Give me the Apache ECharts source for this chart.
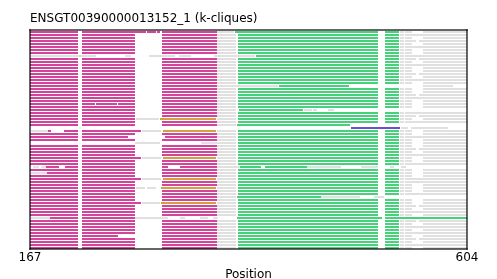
<!DOCTYPE html>
<html><head><meta charset="utf-8">
<script src="https://cdn.jsdelivr.net/npm/echarts@6/dist/echarts.min.js"></script>
<style>html,body{margin:0;padding:0;background:#fff}#c{width:497px;height:279px}</style>
</head><body><div id="c"></div>
<script>
const titleText = 'ENSGT00390000013152_1 (k-cliques)';
const xAxisName = 'Position';
const xRange = [167, 604];
const xTickLabels = [167, 604];
const rowCount = 73;
const kindOrder = ['M', 'G', 'E', 'O', 'P'];
const kindColors = ['#d4449b', '#e0e0e0', '#47d17a', '#d4a040', '#6a4fd0'];

// typical row pieces [start, end, kind]
const leftStd = [[167,215,'M'],[219,272,'M'],[299,354,'M']];
const midStd = [[354,373,'G'],[375,515,'E'],[522,536,'E']];
const rightA = [[537,541,'G'],[542,549,'G'],[560,604,'G']];
const rightB = [[537,541,'G'],[542,604,'G']];
const rightC = [[537,541,'G'],[542,553,'G'],[556,604,'G']];
const rightStyleOfRow = 'ABACABAABCABAACABABAACBABAABCABAACABABACABAABCABAABACABAABCABAACABABACAB';

// rows that differ from the typical row
const specialRows = {
  0: [[167,215,'M'],[219,283,'M'],[284,293,'M'],[294,297,'M'],[299,354,'M'],[354,371,'G'],[372,515,'E'],[522,536,'E'],[537,541,'G'],[542,549,'G'],[560,604,'G']],
  8: [[167,233,'G'],[262,268,'G'],[286,312,'G'],[316,328,'G'],[351,392,'G'],[393,515,'E'],[522,536,'E'],[537,541,'G'],[542,604,'G']],
  18: [[167,215,'M'],[219,272,'M'],[299,354,'M'],[354,415,'G'],[416,486,'E'],[560,590,'G']],
  24: [[167,215,'M'],[219,232,'M'],[233,254,'M'],[255,272,'M'],[299,354,'M'],[354,373,'G'],[375,515,'E'],[522,536,'E'],[537,541,'G'],[542,549,'G'],[560,604,'G']],
  26: [[167,215,'M'],[219,272,'M'],[299,354,'M'],[354,373,'G'],[376,440,'E'],[441,449,'G'],[450,454,'G'],[465,471,'G']],
  29: [[167,215,'M'],[219,272,'M'],[273,296,'G'],[297,353,'O'],[354,373,'G'],[375,515,'E'],[522,536,'E'],[537,541,'G'],[542,549,'G'],[560,604,'G']],
  31: [[167,215,'M'],[219,272,'M'],[299,354,'M'],[354,373,'G'],[374,487,'E']],
  32: [[488,537,'P'],[538,545,'G'],[548,585,'G']],
  33: [[168,185,'G'],[185,188,'M'],[201,215,'M'],[219,278,'M'],[279,298,'G'],[300,353,'O'],[354,373,'G'],[375,515,'E'],[522,536,'E'],[537,541,'G'],[542,549,'G'],[560,604,'G']],
  35: [[167,215,'M'],[219,265,'M'],[302,354,'M'],[354,373,'G'],[375,515,'E'],[522,536,'E'],[537,541,'G'],[542,604,'G']],
  37: [[272,297,'G'],[338,373,'G'],[375,515,'E'],[522,536,'E'],[537,541,'G'],[542,549,'G'],[560,604,'G']],
  42: [[167,215,'M'],[219,278,'M'],[279,298,'G'],[300,353,'O'],[354,373,'G'],[375,515,'E'],[522,536,'E'],[537,541,'G'],[542,549,'G'],[560,604,'G']],
  45: [[170,176,'G'],[178,183,'G'],[183,196,'M'],[202,215,'M'],[219,272,'M'],[299,305,'M'],[317,354,'M'],[354,377,'G'],[377,398,'E'],[402,444,'E'],[444,478,'G'],[498,515,'G'],[527,531,'G'],[538,543,'G']],
  47: [[168,184,'G'],[184,215,'M'],[219,272,'M'],[299,354,'M'],[354,373,'G'],[375,515,'E'],[522,536,'E'],[537,541,'G'],[542,549,'G'],[560,604,'G']],
  49: [[167,215,'M'],[219,278,'M'],[279,298,'G'],[300,353,'O'],[354,373,'G'],[375,515,'E'],[522,536,'E'],[537,541,'G'],[542,604,'G']],
  52: [[167,215,'M'],[219,272,'M'],[273,282,'G'],[284,293,'G'],[298,353,'O'],[354,373,'G'],[375,515,'E'],[522,536,'E'],[537,541,'G'],[542,549,'G'],[560,604,'G']],
  55: [[167,215,'M'],[219,272,'M'],[299,354,'M'],[354,373,'G'],[374,458,'E'],[458,497,'G'],[511,521,'G']],
  57: [[167,215,'M'],[219,278,'M'],[279,297,'G'],[298,353,'O'],[354,373,'G'],[375,515,'E'],[522,536,'E'],[537,541,'G'],[542,549,'G'],[560,604,'G']],
  62: [[167,187,'G'],[187,215,'M'],[219,272,'M'],[272,305,'G'],[317,322,'G'],[337,345,'G'],[350,355,'G'],[374,519,'E'],[522,604,'E']],
  68: [[167,215,'M'],[219,255,'M'],[299,354,'M'],[354,373,'G'],[375,515,'E'],[522,536,'E'],[537,541,'G'],[542,549,'G'],[560,604,'G']]
};

const rightByCode = {A: rightA, B: rightB, C: rightC};
const segData = [];
for (let r = 0; r < rowCount; r++) {
  const segs = specialRows[r] || leftStd.concat(midStd, rightByCode[rightStyleOfRow[r] || 'A']);
  segs.forEach(s => segData.push([r, s[0], s[1], kindOrder.indexOf(s[2])]));
}

const spine = {show: true, onZero: false, lineStyle: {color: 'rgba(0,0,0,0.6)', width: 2}};
const font = 'DejaVu Sans';
const chart = echarts.init(document.getElementById('c'), null, {renderer: 'canvas'});
chart.setOption({
  animation: false,
  title: {text: titleText, left: 30, top: 13, padding: 0,
    textStyle: {fontFamily: font, fontSize: 12, fontWeight: 'normal', color: '#000'}},
  grid: {left: 30, right: 30, top: 30, height: 219, containLabel: false, outerBoundsMode: 'none'},
  xAxis: [
    {type: 'value', min: xRange[0], max: xRange[1], position: 'bottom', z: 10,
     axisLine: spine, axisTick: {show: false}, splitLine: {show: false},
     axisLabel: {customValues: xTickLabels, color: '#000', fontSize: 12, fontFamily: font, margin: 3},
     name: xAxisName, nameLocation: 'middle', nameGap: 13,
     nameTextStyle: {color: '#000', fontSize: 12, fontFamily: font}},
    {type: 'value', min: xRange[0], max: xRange[1], position: 'top', z: 10,
     axisLine: spine, axisTick: {show: false}, splitLine: {show: false}, axisLabel: {show: false}}
  ],
  yAxis: [
    {type: 'value', inverse: true, min: -0.5, max: rowCount - 0.5, position: 'left', z: 10,
     axisLine: spine, axisTick: {show: false}, splitLine: {show: false}, axisLabel: {show: false}},
    {type: 'value', inverse: true, min: -0.5, max: rowCount - 0.5, position: 'right', z: 10,
     axisLine: spine, axisTick: {show: false}, splitLine: {show: false}, axisLabel: {show: false}}
  ],
  series: [{
    type: 'custom',
    coordinateSystem: 'cartesian2d',
    xAxisIndex: 0, yAxisIndex: 0,
    encode: {x: [1, 2], y: 0},
    clip: true,
    data: segData,
    renderItem: function (params, api) {
      const r = api.value(0), s = api.value(1), e = api.value(2), k = api.value(3);
      const p0 = api.coord([s, r]);
      const p1 = api.coord([e, r]);
      const h = 2;
      return {type: 'rect',
        shape: {x: p0[0], y: Math.round(p0[1] - h / 2), width: p1[0] - p0[0], height: h},
        style: {fill: kindColors[k]}};
    }
  }]
});
</script></body></html>
